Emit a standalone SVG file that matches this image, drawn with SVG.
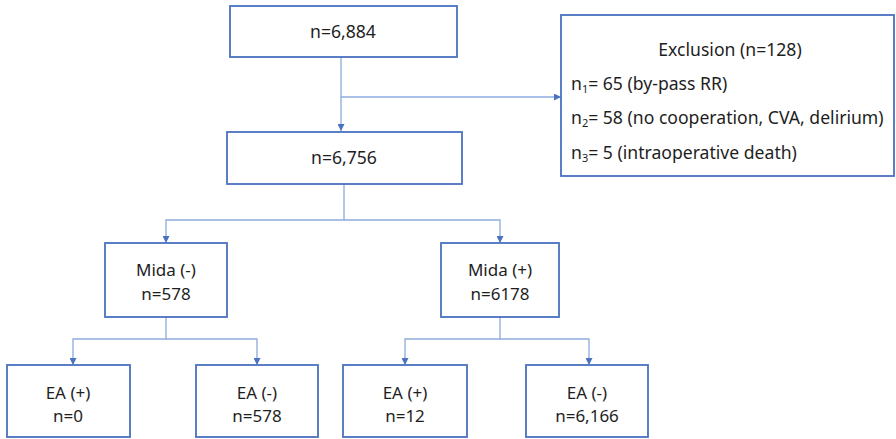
<svg xmlns="http://www.w3.org/2000/svg" width="896" height="439" viewBox="0 0 896 439">
<style>
.box{fill:#fff;stroke:#4a72c0;stroke-width:1.8}
.ln{fill:none;stroke:#8eaadc;stroke-width:1.3}
text{font-family:"Noto Sans","Open Sans",sans-serif;font-size:17.6px;fill:#1e1e1e}
.c{text-anchor:middle}
.t2{font-size:17px}
</style>
<defs>
<marker id="ah" viewBox="0 0 10 10" refX="10" refY="5" markerWidth="7" markerHeight="7" orient="auto" markerUnits="userSpaceOnUse">
<path d="M0,0 L10,5 L0,10 z" fill="#4a72c0"/>
</marker>
</defs>
<g id="connectors">
<path class="ln" d="M341,57 V131" marker-end="url(#ah)"/>
<path class="ln" d="M341,97 H561" marker-end="url(#ah)"/>
<path class="ln" d="M344,184 V220 H166 V243" marker-end="url(#ah)"/>
<path class="ln" d="M344,220 H500 V243" marker-end="url(#ah)"/>
<path class="ln" d="M166,317 V339 H73 V365" marker-end="url(#ah)"/>
<path class="ln" d="M166,339 H257 V365" marker-end="url(#ah)"/>
<path class="ln" d="M500,317 V339 H405 V365" marker-end="url(#ah)"/>
<path class="ln" d="M500,339 H589 V365" marker-end="url(#ah)"/>
</g>
<g id="n6884"><rect class="box" x="230" y="6" width="227" height="51"/><text class="c" x="343" y="38">n=6,884</text></g>
<g id="exclusion"><rect class="box" x="561" y="15" width="333" height="161"/>
<text class="c" x="730" y="56">Exclusion (n=128)</text>
<text x="571" y="90">n<tspan font-size="11" dy="3">1</tspan><tspan dy="-3">= 65 (by-pass RR)</tspan></text>
<text x="571" y="124">n<tspan font-size="11" dy="3">2</tspan><tspan dy="-3">= 58 (no cooperation, CVA, delirium)</tspan></text>
<text x="571" y="159">n<tspan font-size="11" dy="3">3</tspan><tspan dy="-3">= 5 (intraoperative death)</tspan></text>
</g>
<g id="n6756"><rect class="box" x="227" y="132" width="235" height="52"/><text class="c" x="344" y="164">n=6,756</text></g>
<g id="midaNeg"><rect class="box" x="105" y="243" width="122" height="74"/><text class="c t2" x="166" y="276">Mida (-)</text><text class="c t2" x="166" y="299.5">n=578</text></g>
<g id="midaPos"><rect class="box" x="441" y="243" width="118" height="74"/><text class="c t2" x="500" y="276">Mida (+)</text><text class="c t2" x="500" y="299.5">n=6178</text></g>
<g id="ea1"><rect class="box" x="7" y="365" width="123" height="72"/><text class="c t2" x="68" y="398.5">EA (+)</text><text class="c t2" x="68" y="422">n=0</text></g>
<g id="ea2"><rect class="box" x="196" y="365" width="122" height="72"/><text class="c t2" x="257" y="398.5">EA (-)</text><text class="c t2" x="257" y="422">n=578</text></g>
<g id="ea3"><rect class="box" x="343" y="365" width="124" height="72"/><text class="c t2" x="405" y="398.5">EA (+)</text><text class="c t2" x="405" y="422">n=12</text></g>
<g id="ea4"><rect class="box" x="526" y="365" width="122" height="72"/><text class="c t2" x="587" y="398.5">EA (-)</text><text class="c t2" x="587" y="422">n=6,166</text></g>
</svg>
